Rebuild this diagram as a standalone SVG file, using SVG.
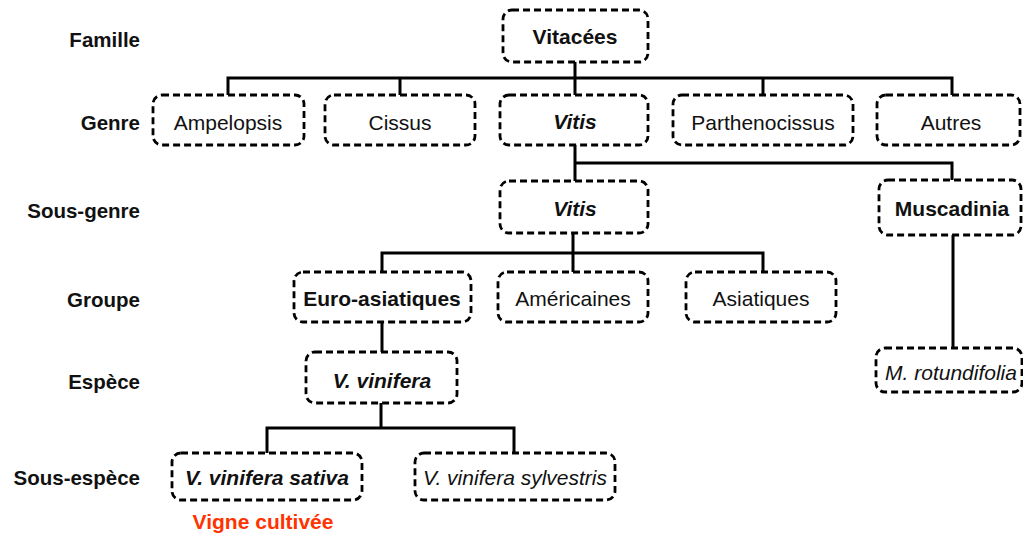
<svg xmlns="http://www.w3.org/2000/svg" width="1023" height="535" viewBox="0 0 1023 535">
<style>
.box{fill:#fff;stroke:#000;stroke-width:2.8;stroke-dasharray:7 4}
.t{font-family:"Liberation Sans",Arial,sans-serif;font-size:21px;text-anchor:middle;fill:#111}
.b{font-weight:bold}
.i{font-style:italic}
.lvl{font-family:"Liberation Sans",Arial,sans-serif;font-size:20.5px;font-weight:bold;text-anchor:end;fill:#111}
.c{fill:none;stroke:#000;stroke-width:3}
</style>
<rect width="1023" height="535" fill="#fff"/>
<g id="levels">
<text class="lvl" x="140" y="47">Famille</text>
<text class="lvl" x="140" y="130">Genre</text>
<text class="lvl" x="140" y="218">Sous-genre</text>
<text class="lvl" x="140" y="307">Groupe</text>
<text class="lvl" x="140" y="389">Espèce</text>
<text class="lvl" x="140" y="485">Sous-espèce</text>
</g>
<g id="connectors">
<path class="c" d="M575 62V78M228 95V78H952V95M400 78V95M575 78V95M763 78V95"/>
<path class="c" d="M575 145V163H952V180M575 163V181"/>
<path class="c" d="M953 235V348"/>
<path class="c" d="M573 233V253M382 272V253H763V272M573 253V272"/>
<path class="c" d="M382 322V352"/>
<path class="c" d="M381 403V428M267 453V428H514V453"/>
</g>
<g id="n-vitacees"><rect class="box" x="503" y="10" width="145" height="52" rx="9"/><text class="t b" x="575" y="44">Vitacées</text></g>
<g id="n-ampelopsis"><rect class="box" x="153" y="95" width="151" height="50" rx="9"/><text class="t" x="228" y="130">Ampelopsis</text></g>
<g id="n-cissus"><rect class="box" x="325" y="95" width="150" height="50" rx="9"/><text class="t" x="400" y="130">Cissus</text></g>
<g id="n-vitis-genre"><rect class="box" x="500" y="95" width="148" height="50" rx="9"/><text class="t b i" x="575" y="129">Vitis</text></g>
<g id="n-parthenocissus"><rect class="box" x="673" y="95" width="180" height="50" rx="9"/><text class="t" x="763" y="130">Parthenocissus</text></g>
<g id="n-autres"><rect class="box" x="877" y="95" width="143" height="50" rx="9"/><text class="t" x="951" y="130">Autres</text></g>
<g id="n-vitis-sg"><rect class="box" x="500" y="181" width="148" height="52" rx="9"/><text class="t b i" x="575" y="216">Vitis</text></g>
<g id="n-muscadinia"><rect class="box" x="879" y="180" width="142" height="55" rx="9"/><text class="t b" x="952" y="216">Muscadinia</text></g>
<g id="n-euro"><rect class="box" x="294" y="272" width="177" height="50" rx="9"/><text class="t b" x="382" y="306">Euro-asiatiques</text></g>
<g id="n-americaines"><rect class="box" x="498" y="272" width="150" height="50" rx="9"/><text class="t" x="573" y="306">Américaines</text></g>
<g id="n-asiatiques"><rect class="box" x="686" y="272" width="150" height="50" rx="9"/><text class="t" x="761" y="306">Asiatiques</text></g>
<g id="n-vinifera"><rect class="box" x="306" y="352" width="151" height="51" rx="9"/><text class="t b i" x="382" y="388">V. vinifera</text></g>
<g id="n-rotundifolia"><rect class="box" x="876" y="348" width="146" height="44" rx="9"/><text class="t i" x="951" y="380">M. rotundifolia</text></g>
<g id="n-sativa"><rect class="box" x="172" y="453" width="190" height="47" rx="9"/><text class="t b i" x="267" y="485">V. vinifera sativa</text></g>
<g id="n-sylvestris"><rect class="box" x="415" y="453" width="200" height="47" rx="9"/><text class="t i" x="515" y="485">V. vinifera sylvestris</text></g>
<text class="t b" x="263" y="529" style="fill:#ff3300">Vigne cultivée</text>
</svg>
